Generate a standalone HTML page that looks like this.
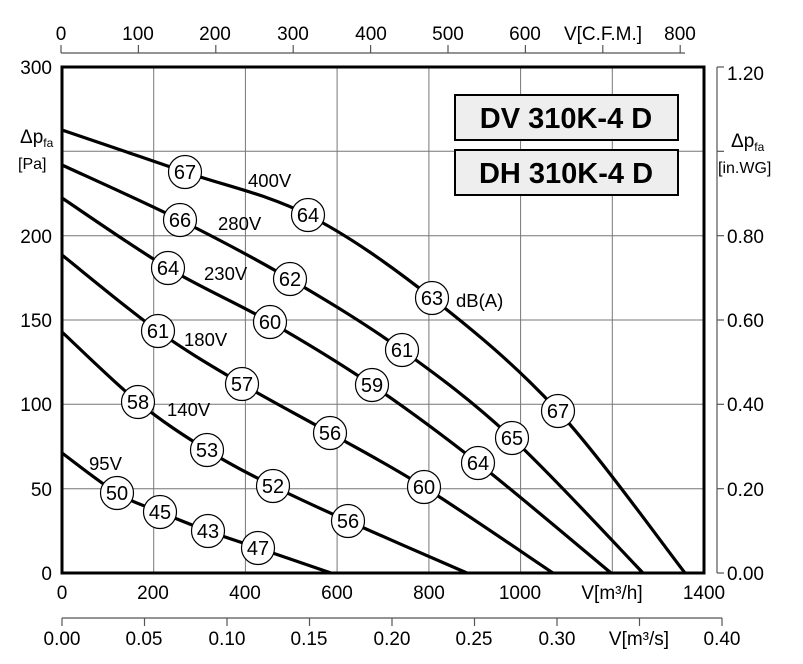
<!DOCTYPE html>
<html><head><meta charset="utf-8"><style>
html,body{margin:0;padding:0;background:#fff;}
svg{display:block;font-family:"Liberation Sans",Arial,sans-serif;}
</style></head><body>
<svg id="s" width="803" height="664" viewBox="0 0 803 664" xmlns="http://www.w3.org/2000/svg">
<g stroke="#777" stroke-width="1">
<line x1="153.7" y1="67" x2="153.7" y2="573"/><line x1="245.4" y1="67" x2="245.4" y2="573"/>
<line x1="337.1" y1="67" x2="337.1" y2="573"/><line x1="428.9" y1="67" x2="428.9" y2="573"/>
<line x1="520.6" y1="67" x2="520.6" y2="573"/><line x1="612.3" y1="67" x2="612.3" y2="573"/>
<line x1="62" y1="151.3" x2="704" y2="151.3"/><line x1="62" y1="235.7" x2="704" y2="235.7"/>
<line x1="62" y1="320" x2="704" y2="320"/><line x1="62" y1="404.3" x2="704" y2="404.3"/>
<line x1="62" y1="488.7" x2="704" y2="488.7"/>
</g>
<g stroke="#555" stroke-width="1.2">
<line x1="61" y1="53" x2="685" y2="53"/>
<line x1="61" y1="45" x2="61" y2="53"/><line x1="138.4" y1="45" x2="138.4" y2="53"/>
<line x1="215.8" y1="45" x2="215.8" y2="53"/><line x1="293.2" y1="45" x2="293.2" y2="53"/>
<line x1="370.6" y1="45" x2="370.6" y2="53"/><line x1="448" y1="45" x2="448" y2="53"/>
<line x1="525.4" y1="45" x2="525.4" y2="53"/><line x1="602.8" y1="45" x2="602.8" y2="53"/>
<line x1="680.2" y1="45" x2="680.2" y2="53"/>
<line x1="717" y1="67" x2="717" y2="573"/>
<line x1="717" y1="573" x2="724" y2="573"/><line x1="717" y1="488.7" x2="724" y2="488.7"/>
<line x1="717" y1="404.3" x2="724" y2="404.3"/><line x1="717" y1="320" x2="724" y2="320"/>
<line x1="717" y1="235.7" x2="724" y2="235.7"/><line x1="717" y1="151.3" x2="724" y2="151.3"/>
<line x1="717" y1="67" x2="724" y2="67"/>
<line x1="62" y1="618" x2="722" y2="618"/>
<line x1="62" y1="618" x2="62" y2="626"/><line x1="144.5" y1="618" x2="144.5" y2="626"/>
<line x1="227" y1="618" x2="227" y2="626"/><line x1="309.5" y1="618" x2="309.5" y2="626"/>
<line x1="392" y1="618" x2="392" y2="626"/><line x1="474.5" y1="618" x2="474.5" y2="626"/>
<line x1="557" y1="618" x2="557" y2="626"/><line x1="639.5" y1="618" x2="639.5" y2="626"/>
<line x1="722" y1="618" x2="722" y2="626"/>
</g>
<g font-size="19" fill="#000" text-anchor="middle">
<text x="61" y="40">0</text><text x="138" y="40">100</text><text x="215" y="40">200</text>
<text x="293" y="40">300</text><text x="371" y="40">400</text><text x="448" y="40">500</text>
<text x="525" y="40">600</text><text x="603" y="40">V[C.F.M.]</text><text x="680" y="40">800</text>
<text x="62" y="599">0</text><text x="153" y="599">200</text><text x="245" y="599">400</text>
<text x="337" y="599">600</text><text x="429" y="599">800</text><text x="520" y="599">1000</text>
<text x="612" y="599">V[m³/h]</text><text x="704" y="599">1400</text>
<text x="62" y="645">0.00</text><text x="144" y="645">0.05</text><text x="227" y="645">0.10</text>
<text x="309" y="645">0.15</text><text x="392" y="645">0.20</text><text x="474" y="645">0.25</text>
<text x="557" y="645">0.30</text><text x="639" y="645">V[m³/s]</text><text x="722" y="645">0.40</text>
</g>
<g font-size="19" text-anchor="end">
<text x="52" y="74">300</text><text x="52" y="243">200</text><text x="52" y="327">150</text>
<text x="52" y="411">100</text><text x="52" y="496">50</text><text x="52" y="580">0</text>
</g>
<g font-size="19">
<text x="727" y="80">1.20</text><text x="727" y="243">0.80</text><text x="727" y="327">0.60</text>
<text x="727" y="411">0.40</text><text x="727" y="496">0.20</text><text x="727" y="580">0.00</text>
<text x="20" y="143">Δp<tspan font-size="12" dy="4">fa</tspan></text>
<text x="18" y="169" font-size="16">[Pa]</text>
<text x="731" y="147">Δp<tspan font-size="12" dy="4">fa</tspan></text>
<text x="718" y="173" font-size="16">[in.WG]</text>
</g>
<g id="curves" fill="none" stroke="#000" stroke-width="3.2" stroke-linejoin="round"></g>
<rect x="62" y="67" width="642" height="506" fill="none" stroke="#000" stroke-width="3"/>
<rect x="455" y="95" width="223" height="45" fill="#eee" stroke="#000" stroke-width="2"/>
<rect x="455" y="150" width="223" height="45" fill="#eee" stroke="#000" stroke-width="2"/>
<g font-size="29" font-weight="bold" text-anchor="middle">
<text x="566" y="128">DV 310K-4 D</text><text x="566" y="183">DH 310K-4 D</text>
</g>
<g font-size="18.5">
<text x="248" y="187">400V</text><text x="218" y="230">280V</text><text x="204" y="280">230V</text>
<text x="184" y="346">180V</text><text x="167" y="416">140V</text><text x="89" y="470">95V</text>
<text x="456" y="307">dB(A)</text>
</g>
<g id="circ"></g>
</svg>
<script>
var C=[
[[62,130],[185,172],[308,215],[432,298],[558,411],[685,573]],
[[62,165],[180,220],[290,279],[402,350],[512,438],[643,573]],
[[62,198],[168,268],[270,322],[372,385],[478,463],[611,573]],
[[62,255],[158,331],[242,384],[330,433],[424,487],[553,573]],
[[62,332],[138,402],[207,450],[273,486],[348,521],[467,573]],
[[62,453],[117,493],[160,512],[208,531],[258,548],[331,573]]];
var L=[[67,64,63,67],[66,62,61,65],[64,60,59,64],[61,57,56,60],[58,53,52,56],[50,45,43,47]];
var g=document.getElementById('curves'),cg=document.getElementById('circ'),ns='http://www.w3.org/2000/svg';
C.forEach(function(p,k){
 var d='M'+p[0][0]+','+p[0][1];
 for(var i=0;i<p.length-1;i++){
  var p0=p[i-1]||p[i],p1=p[i],p2=p[i+1],p3=p[i+2]||p2;
  var c1=[p1[0]+(p2[0]-p0[0])/6,p1[1]+(p2[1]-p0[1])/6],c2=[p2[0]-(p3[0]-p1[0])/6,p2[1]-(p3[1]-p1[1])/6];
  d+=' C'+c1+' '+c2+' '+p2;
 }
 var e=document.createElementNS(ns,'path');e.setAttribute('d',d);g.appendChild(e);
 for(var j=1;j<=4;j++){
  var c=document.createElementNS(ns,'circle');c.setAttribute('cx',p[j][0]);c.setAttribute('cy',p[j][1]);c.setAttribute('r',16.5);
  c.setAttribute('fill','#fff');c.setAttribute('stroke','#000');c.setAttribute('stroke-width','1.2');cg.appendChild(c);
  var t=document.createElementNS(ns,'text');t.setAttribute('x',p[j][0]);t.setAttribute('y',p[j][1]+7);t.setAttribute('text-anchor','middle');t.setAttribute('font-size','20');t.textContent=L[k][j-1];cg.appendChild(t);
 }
});
</script>
</body></html>
